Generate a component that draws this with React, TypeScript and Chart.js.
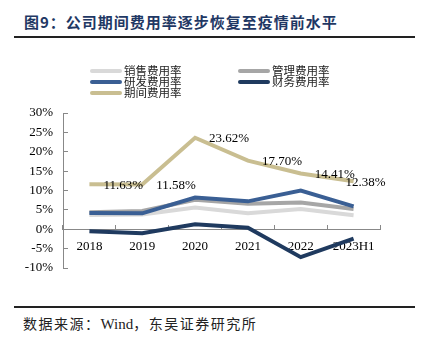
import React, { useEffect, useRef } from "react";
import { Chart, registerables } from "chart.js";

Chart.register(...registerables);

const categories = ["2018", "2019", "2020", "2021", "2022", "2023H1"];
const salesRate = [3.7, 3.8, 5.6, 4.1, 5.2, 3.6];
const adminRate = [4.4, 4.7, 7.6, 6.6, 6.9, 5.2];
const rdRate = [4.2, 4.1, 8.2, 7.2, 10.0, 5.9];
const financeRate = [-0.5, -1.0, 1.3, 0.4, -7.2, -2.4];
const periodRate = [11.63, 11.58, 23.62, 17.7, 14.41, 12.38];
const periodLabels = ["11.63%", "11.58%", "23.62%", "17.70%", "14.41%", "12.38%"];
const seriesNames = ["销售费用率", "管理费用率", "研发费用率", "财务费用率", "期间费用率"];
const yTicks = [-10, -5, 0, 5, 10, 15, 20, 25, 30];

const SERIF = '"Liberation Serif", "DejaVu Serif", "Noto Sans CJK SC", serif';
const CJK = '"Noto Sans CJK SC", "Liberation Serif", serif';

const legendPlugin = {
  id: "customLegend",
  afterDraw(chart: any) {
    const ctx = chart.ctx;
    ctx.save();
    chart.data.datasets.forEach((ds: any, i: number) => {
      const col = i % 2;
      const row = Math.floor(i / 2);
      const x0 = 90 + col * 148;
      const y = 21 + row * 11;
      ctx.strokeStyle = ds.borderColor;
      ctx.lineWidth = 4;
      ctx.lineCap = "round";
      ctx.beginPath();
      ctx.moveTo(x0 + 2, y);
      ctx.lineTo(x0 + 30, y);
      ctx.stroke();
      ctx.fillStyle = "#222";
      ctx.font = `11.5px ${CJK}`;
      ctx.textAlign = "left";
      ctx.textBaseline = "middle";
      ctx.fillText(ds.label, x0 + 34, y);
    });
    ctx.restore();
  },
};

const labelPlugin = {
  id: "periodLabels",
  afterDatasetsDraw(chart: any) {
    const meta = chart.getDatasetMeta(4);
    const ctx = chart.ctx;
    const xOffsets = [14, 14, 14, 14, 14, -8];
    ctx.save();
    ctx.fillStyle = "#000";
    ctx.font = `13px ${SERIF}`;
    ctx.textAlign = "left";
    ctx.textBaseline = "middle";
    meta.data.forEach((pt: any, i: number) => {
      ctx.fillText(periodLabels[i], pt.x + xOffsets[i], pt.y + 1);
    });
    ctx.restore();
  },
};

export default function App() {
  const ref = useRef<HTMLCanvasElement>(null);
  useEffect(() => {
    if (!ref.current) return;
    const mk = (label: string, data: number[], color: string, order: number) => ({
      label,
      data,
      borderColor: color,
      backgroundColor: color,
      borderWidth: 4,
      pointRadius: 0,
      tension: 0,
      fill: false,
      order,
      borderCapStyle: "butt",
      borderJoinStyle: "miter",
    });
    const chart = new Chart(ref.current, {
      type: "line",
      data: {
        labels: categories,
        datasets: [
          mk(seriesNames[0], salesRate, "#D9D9D9", 5),
          mk(seriesNames[1], adminRate, "#A6A6A6", 4),
          mk(seriesNames[2], rdRate, "#3A5F94", 3),
          mk(seriesNames[3], financeRate, "#1F3A5F", 2),
          mk(seriesNames[4], periodRate, "#C9BE91", 1),
        ] as any,
      },
      options: {
        animation: false,
        responsive: false,
        devicePixelRatio: 1,
        layout: { padding: { top: 63, bottom: 32, left: 23, right: 43 } },
        plugins: {
          legend: { display: false },
          tooltip: { enabled: false },
          title: { display: false },
        },
        scales: {
          x: {
            type: "category",
            offset: true,
            position: { y: 0 } as any,
            grid: {
              display: true,
              drawOnChartArea: false,
              drawTicks: true,
              tickLength: -5,
              offset: true,
              color: "#888",
            },
            border: { display: true, color: "#888", width: 1 },
            ticks: {
              color: "#000",
              font: { family: SERIF, size: 13 },
              padding: 15,
              maxRotation: 0,
              autoSkip: false,
            },
          },
          y: {
            min: -10,
            max: 30,
            afterFit: (scale: any) => {
              scale.width = 40;
            },
            afterBuildTicks: (scale: any) => {
              scale.ticks = yTicks.map((v) => ({ value: v }));
            },
            grid: {
              display: true,
              drawOnChartArea: false,
              drawTicks: true,
              tickLength: -5,
              color: "#888",
            },
            border: { display: true, color: "#888", width: 1 },
            ticks: {
              color: "#000",
              font: { family: SERIF, size: 13 },
              padding: 15,
              callback: (v: any) => `${v}%`,
            },
          },
        },
      },
      plugins: [legendPlugin, labelPlugin],
    });
    return () => chart.destroy();
  }, []);

  return (
    <div
      style={{
        position: "absolute",
        left: 0,
        top: 0,
        width: 423,
        height: 350,
        background: "#fff",
        overflow: "hidden",
      }}
    >
      <div
        style={{
          position: "absolute",
          left: 24,
          top: 12,
          fontFamily: CJK,
          fontWeight: 700,
          fontSize: 15,
          letterSpacing: 1,
          color: "#1F3864",
          whiteSpace: "nowrap",
          lineHeight: "20px",
        }}
      >
        图9：公司期间费用率逐步恢复至疫情前水平
      </div>
      <div style={{ position: "absolute", left: 14, top: 36, width: 401, height: 2, background: "#222" }} />
      <canvas ref={ref} width={423} height={250} style={{ position: "absolute", left: 0, top: 50, width: 423, height: 250 }} />
      <div style={{ position: "absolute", left: 14, top: 306, width: 401, height: 1.5, background: "#222" }} />
      <div
        style={{
          position: "absolute",
          left: 23,
          top: 314,
          fontFamily: CJK,
          fontSize: 14,
          letterSpacing: 1.5,
          color: "#222",
          whiteSpace: "nowrap",
          lineHeight: "18px",
        }}
      >
        数据来源：<span style={{ fontFamily: SERIF, fontSize: 15, letterSpacing: 0 }}>Wind</span>，东吴证券研究所
      </div>
    </div>
  );
}
